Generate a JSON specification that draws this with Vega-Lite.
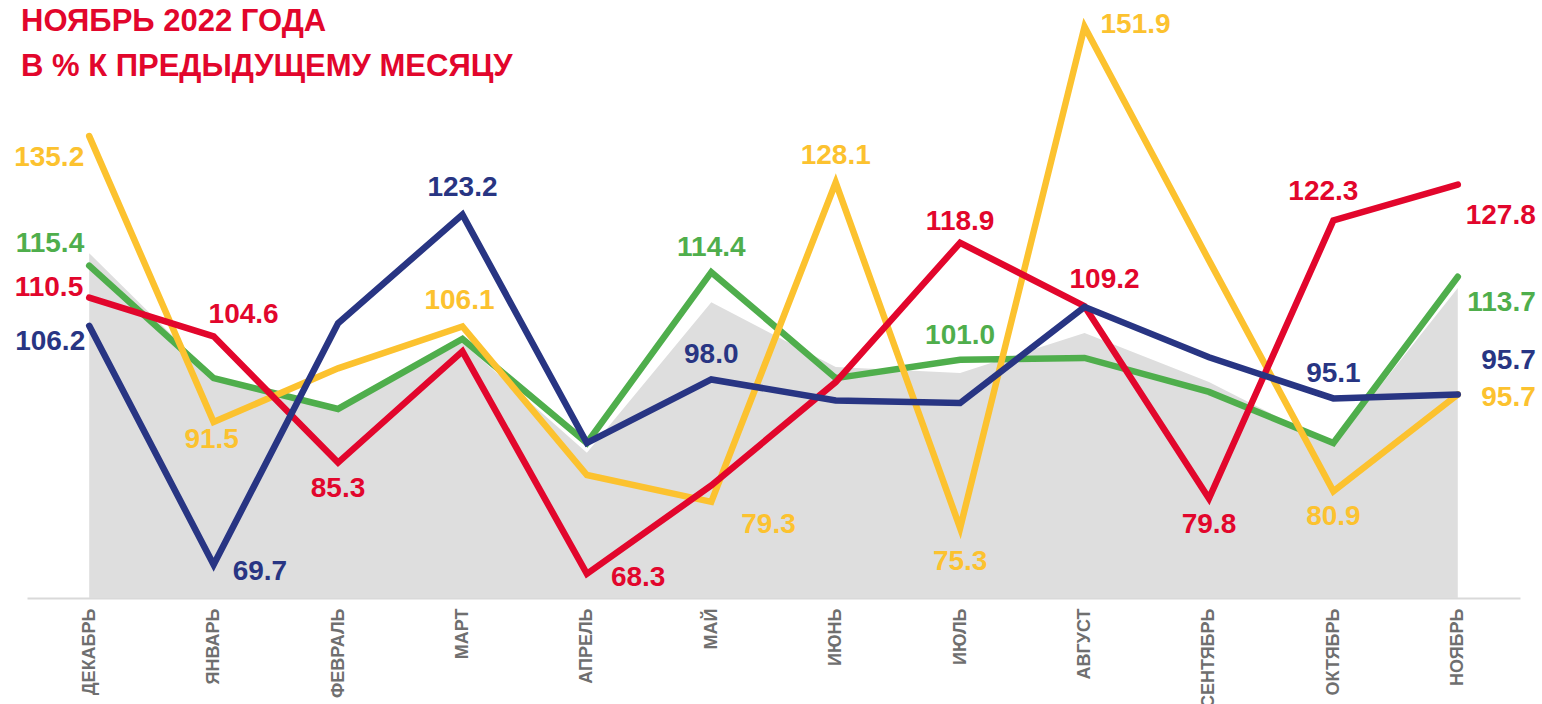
{
  "$schema": "https://vega.github.io/schema/vega-lite/v6.json",
  "width": 1493,
  "height": 598,
  "autosize": {"type": "none"},
  "padding": {"left": 27, "top": 0, "right": 22, "bottom": 106},
  "background": "#ffffff",
  "title": {
    "text": ["НОЯБРЬ 2022 ГОДА", "В % К ПРЕДЫДУЩЕМУ МЕСЯЦУ"],
    "anchor": "start",
    "frame": "group",
    "offset": -83,
    "dx": -6,
    "font": "Liberation Sans",
    "fontSize": 31,
    "fontWeight": "bold",
    "color": "#e2062c",
    "lineHeight": 45
  },
  "config": {
    "view": {"stroke": null},
    "text": {"font": "Liberation Sans", "fontSize": 28, "fontWeight": "bold", "baseline": "middle"},
    "line": {"strokeWidth": 6.5, "strokeCap": "round", "strokeJoin": "miter"}
  },
  "data": {
    "values": [
      {"month": "ДЕКАБРЬ", "series": "gray", "value": 117.3},
      {"month": "ЯНВАРЬ", "series": "gray", "value": 98.5},
      {"month": "ФЕВРАЛЬ", "series": "gray", "value": 93.6},
      {"month": "МАРТ", "series": "gray", "value": 103.6},
      {"month": "АПРЕЛЬ", "series": "gray", "value": 86.8},
      {"month": "МАЙ", "series": "gray", "value": 109.8},
      {"month": "ИЮНЬ", "series": "gray", "value": 99.9},
      {"month": "ИЮЛЬ", "series": "gray", "value": 99.0},
      {"month": "АВГУСТ", "series": "gray", "value": 105.1},
      {"month": "СЕНТЯБРЬ", "series": "gray", "value": 97.6},
      {"month": "ОКТЯБРЬ", "series": "gray", "value": 88.0},
      {"month": "НОЯБРЬ", "series": "gray", "value": 112.0},

      {"month": "ДЕКАБРЬ", "series": "green", "value": 115.4},
      {"month": "ЯНВАРЬ", "series": "green", "value": 98.2},
      {"month": "ФЕВРАЛЬ", "series": "green", "value": 93.5},
      {"month": "МАРТ", "series": "green", "value": 104.2},
      {"month": "АПРЕЛЬ", "series": "green", "value": 88.3},
      {"month": "МАЙ", "series": "green", "value": 114.4},
      {"month": "ИЮНЬ", "series": "green", "value": 98.2},
      {"month": "ИЮЛЬ", "series": "green", "value": 101.0},
      {"month": "АВГУСТ", "series": "green", "value": 101.3},
      {"month": "СЕНТЯБРЬ", "series": "green", "value": 96.1},
      {"month": "ОКТЯБРЬ", "series": "green", "value": 88.3},
      {"month": "НОЯБРЬ", "series": "green", "value": 113.7},

      {"month": "ДЕКАБРЬ", "series": "yellow", "value": 135.2},
      {"month": "ЯНВАРЬ", "series": "yellow", "value": 91.5},
      {"month": "ФЕВРАЛЬ", "series": "yellow", "value": 99.7},
      {"month": "МАРТ", "series": "yellow", "value": 106.1},
      {"month": "АПРЕЛЬ", "series": "yellow", "value": 83.4},
      {"month": "МАЙ", "series": "yellow", "value": 79.3},
      {"month": "ИЮНЬ", "series": "yellow", "value": 128.1},
      {"month": "ИЮЛЬ", "series": "yellow", "value": 75.3},
      {"month": "АВГУСТ", "series": "yellow", "value": 151.9},
      {"month": "СЕНТЯБРЬ", "series": "yellow", "value": 116.2},
      {"month": "ОКТЯБРЬ", "series": "yellow", "value": 80.9},
      {"month": "НОЯБРЬ", "series": "yellow", "value": 95.7},

      {"month": "ДЕКАБРЬ", "series": "red", "value": 110.5},
      {"month": "ЯНВАРЬ", "series": "red", "value": 104.6},
      {"month": "ФЕВРАЛЬ", "series": "red", "value": 85.3},
      {"month": "МАРТ", "series": "red", "value": 102.3},
      {"month": "АПРЕЛЬ", "series": "red", "value": 68.3},
      {"month": "МАЙ", "series": "red", "value": 81.8},
      {"month": "ИЮНЬ", "series": "red", "value": 97.6},
      {"month": "ИЮЛЬ", "series": "red", "value": 118.9},
      {"month": "АВГУСТ", "series": "red", "value": 109.2},
      {"month": "СЕНТЯБРЬ", "series": "red", "value": 79.8},
      {"month": "ОКТЯБРЬ", "series": "red", "value": 122.3},
      {"month": "НОЯБРЬ", "series": "red", "value": 127.8},

      {"month": "ДЕКАБРЬ", "series": "navy", "value": 106.2},
      {"month": "ЯНВАРЬ", "series": "navy", "value": 69.7},
      {"month": "ФЕВРАЛЬ", "series": "navy", "value": 106.6},
      {"month": "МАРТ", "series": "navy", "value": 123.2},
      {"month": "АПРЕЛЬ", "series": "navy", "value": 88.3},
      {"month": "МАЙ", "series": "navy", "value": 98.0},
      {"month": "ИЮНЬ", "series": "navy", "value": 94.8},
      {"month": "ИЮЛЬ", "series": "navy", "value": 94.4},
      {"month": "АВГУСТ", "series": "navy", "value": 109.1},
      {"month": "СЕНТЯБРЬ", "series": "navy", "value": 101.4},
      {"month": "ОКТЯБРЬ", "series": "navy", "value": 95.1},
      {"month": "НОЯБРЬ", "series": "navy", "value": 95.7}
    ]
  },
  "encoding": {
    "x": {
      "field": "month",
      "type": "ordinal",
      "sort": ["ДЕКАБРЬ", "ЯНВАРЬ", "ФЕВРАЛЬ", "МАРТ", "АПРЕЛЬ", "МАЙ", "ИЮНЬ", "ИЮЛЬ", "АВГУСТ", "СЕНТЯБРЬ", "ОКТЯБРЬ", "НОЯБРЬ"],
      "scale": {"type": "point", "padding": 0.5},
      "axis": {
        "title": null,
        "labelAngle": -90,
        "labelFont": "Liberation Sans",
        "labelFontSize": 18,
        "labelFontWeight": "bold",
        "labelColor": "#6f6f6f",
        "labelPadding": 10,
        "labelOverlap": false,
        "ticks": false,
        "grid": false,
        "domainColor": "#d9d9d9",
        "domainWidth": 2
      }
    },
    "y": {
      "field": "value",
      "type": "quantitative",
      "scale": {"domain": [64.6, 156], "zero": false, "nice": false},
      "axis": null
    },
    "color": {
      "field": "series",
      "type": "nominal",
      "scale": {
        "domain": ["gray", "green", "yellow", "red", "navy"],
        "range": ["#dedede", "#4fae4c", "#fcc22f", "#e2062c", "#283583"]
      },
      "legend": null
    }
  },
  "layer": [
    {"transform": [{"filter": "datum.series == 'gray'"}], "mark": {"type": "area", "clip": true}, "encoding": {}},
    {"transform": [{"filter": "datum.series == 'green'"}], "mark": {"type": "line"}, "encoding": {}},
    {"transform": [{"filter": "datum.series == 'yellow'"}], "mark": {"type": "line"}, "encoding": {}},
    {"transform": [{"filter": "datum.series == 'red'"}], "mark": {"type": "line"}, "encoding": {}},
    {"transform": [{"filter": "datum.series == 'navy'"}], "mark": {"type": "line"}, "encoding": {}},

    {"transform": [{"filter": "indexof(['МАЙ|green','МАЙ|navy','ИЮЛЬ|green','ОКТЯБРЬ|navy'], datum.month + '|' + datum.series) >= 0"}],
     "mark": {"type": "text", "align": "center", "dy": -24},
     "encoding": {"text": {"field": "value", "type": "quantitative", "format": ".1f"}}},
    {"transform": [{"filter": "indexof(['МАРТ|yellow'], datum.month + '|' + datum.series) >= 0"}],
     "mark": {"type": "text", "align": "center", "dx": -3, "dy": -25},
     "encoding": {"text": {"field": "value", "type": "quantitative", "format": ".1f"}}},
    {"transform": [{"filter": "indexof(['МАРТ|navy','ИЮНЬ|yellow'], datum.month + '|' + datum.series) >= 0"}],
     "mark": {"type": "text", "align": "center", "dy": -27},
     "encoding": {"text": {"field": "value", "type": "quantitative", "format": ".1f"}}},
    {"transform": [{"filter": "indexof(['ИЮЛЬ|red'], datum.month + '|' + datum.series) >= 0"}],
     "mark": {"type": "text", "align": "center", "dy": -21},
     "encoding": {"text": {"field": "value", "type": "quantitative", "format": ".1f"}}},
    {"transform": [{"filter": "indexof(['ФЕВРАЛЬ|red','СЕНТЯБРЬ|red','ОКТЯБРЬ|yellow'], datum.month + '|' + datum.series) >= 0"}],
     "mark": {"type": "text", "align": "center", "dy": 26},
     "encoding": {"text": {"field": "value", "type": "quantitative", "format": ".1f"}}},
    {"transform": [{"filter": "indexof(['ЯНВАРЬ|yellow'], datum.month + '|' + datum.series) >= 0"}],
     "mark": {"type": "text", "align": "center", "dx": -2, "dy": 18},
     "encoding": {"text": {"field": "value", "type": "quantitative", "format": ".1f"}}},
    {"transform": [{"filter": "indexof(['ИЮЛЬ|yellow'], datum.month + '|' + datum.series) >= 0"}],
     "mark": {"type": "text", "align": "center", "dy": 34},
     "encoding": {"text": {"field": "value", "type": "quantitative", "format": ".1f"}}},
    {"transform": [{"filter": "indexof(['ДЕКАБРЬ|green'], datum.month + '|' + datum.series) >= 0"}],
     "mark": {"type": "text", "align": "right", "dx": -5, "dy": -22},
     "encoding": {"text": {"field": "value", "type": "quantitative", "format": ".1f"}}},
    {"transform": [{"filter": "indexof(['ДЕКАБРЬ|red'], datum.month + '|' + datum.series) >= 0"}],
     "mark": {"type": "text", "align": "right", "dx": -6, "dy": -10},
     "encoding": {"text": {"field": "value", "type": "quantitative", "format": ".1f"}}},
    {"transform": [{"filter": "indexof(['ДЕКАБРЬ|navy'], datum.month + '|' + datum.series) >= 0"}],
     "mark": {"type": "text", "align": "right", "dx": -4, "dy": 16},
     "encoding": {"text": {"field": "value", "type": "quantitative", "format": ".1f"}}},
    {"transform": [{"filter": "indexof(['ДЕКАБРЬ|yellow'], datum.month + '|' + datum.series) >= 0"}],
     "mark": {"type": "text", "align": "right", "dx": -5, "dy": 22},
     "encoding": {"text": {"field": "value", "type": "quantitative", "format": ".1f"}}},
    {"transform": [{"filter": "indexof(['ЯНВАРЬ|red'], datum.month + '|' + datum.series) >= 0"}],
     "mark": {"type": "text", "align": "center", "dx": 30, "dy": -21},
     "encoding": {"text": {"field": "value", "type": "quantitative", "format": ".1f"}}},
    {"transform": [{"filter": "indexof(['ЯНВАРЬ|navy'], datum.month + '|' + datum.series) >= 0"}],
     "mark": {"type": "text", "align": "left", "dx": 19, "dy": 7},
     "encoding": {"text": {"field": "value", "type": "quantitative", "format": ".1f"}}},
    {"transform": [{"filter": "indexof(['АПРЕЛЬ|red'], datum.month + '|' + datum.series) >= 0"}],
     "mark": {"type": "text", "align": "left", "dx": 24, "dy": 4},
     "encoding": {"text": {"field": "value", "type": "quantitative", "format": ".1f"}}},
    {"transform": [{"filter": "indexof(['МАЙ|yellow'], datum.month + '|' + datum.series) >= 0"}],
     "mark": {"type": "text", "align": "left", "dx": 30, "dy": 23},
     "encoding": {"text": {"field": "value", "type": "quantitative", "format": ".1f"}}},
    {"transform": [{"filter": "indexof(['АВГУСТ|yellow'], datum.month + '|' + datum.series) >= 0"}],
     "mark": {"type": "text", "align": "left", "dx": 16, "dy": -2},
     "encoding": {"text": {"field": "value", "type": "quantitative", "format": ".1f"}}},
    {"transform": [{"filter": "indexof(['АВГУСТ|red'], datum.month + '|' + datum.series) >= 0"}],
     "mark": {"type": "text", "align": "center", "dx": 20, "dy": -26},
     "encoding": {"text": {"field": "value", "type": "quantitative", "format": ".1f"}}},
    {"transform": [{"filter": "indexof(['ОКТЯБРЬ|red'], datum.month + '|' + datum.series) >= 0"}],
     "mark": {"type": "text", "align": "center", "dx": -10, "dy": -28},
     "encoding": {"text": {"field": "value", "type": "quantitative", "format": ".1f"}}},
    {"transform": [{"filter": "indexof(['НОЯБРЬ|red'], datum.month + '|' + datum.series) >= 0"}],
     "mark": {"type": "text", "align": "right", "dx": 78, "dy": 31},
     "encoding": {"text": {"field": "value", "type": "quantitative", "format": ".1f"}}},
    {"transform": [{"filter": "indexof(['НОЯБРЬ|green'], datum.month + '|' + datum.series) >= 0"}],
     "mark": {"type": "text", "align": "right", "dx": 78, "dy": 26},
     "encoding": {"text": {"field": "value", "type": "quantitative", "format": ".1f"}}},
    {"transform": [{"filter": "indexof(['НОЯБРЬ|navy'], datum.month + '|' + datum.series) >= 0"}],
     "mark": {"type": "text", "align": "right", "dx": 78, "dy": -34},
     "encoding": {"text": {"field": "value", "type": "quantitative", "format": ".1f"}}},
    {"transform": [{"filter": "indexof(['НОЯБРЬ|yellow'], datum.month + '|' + datum.series) >= 0"}],
     "mark": {"type": "text", "align": "right", "dx": 78, "dy": 3},
     "encoding": {"text": {"field": "value", "type": "quantitative", "format": ".1f"}}}
  ]
}
